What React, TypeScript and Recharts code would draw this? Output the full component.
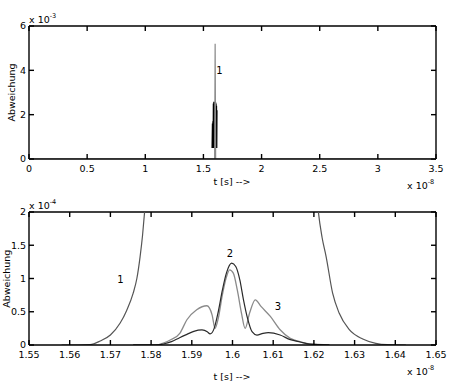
import React from 'react';
import { LineChart, Line, XAxis, YAxis, ReferenceLine } from 'recharts';

const FONT = '"DejaVu Sans", "Liberation Sans", Arial, sans-serif';

// ---------- top panel: t in 1e-8 s, deviation in 1e-3 ----------
const topXTicks = [0, 0.5, 1, 1.5, 2, 2.5, 3, 3.5];
const topYTicks = [0, 2, 4, 6];
const topSpikeT = [0, 1.57, 1.5965, 1.6007, 1.605, 1.63, 3.5];
const topSpikeV = [0, 0, 0, 5.2, 0, 0, 0];
const topBandT = [1.576, 1.579, 1.581, 1.583, 1.585, 1.587, 1.589, 1.591, 1.593, 1.595, 1.597, 1.599, 1.601, 1.603, 1.605, 1.607, 1.609, 1.611, 1.613, 1.615];
const topBandV = [0.5, 1.6, 0.5, 1.7, 0.5, 2.5, 0.5, 2.58, 0.5, 2.55, 0.5, 2.58, 0.5, 2.56, 0.5, 2.5, 0.5, 2.4, 0.5, 2.2];

// ---------- bottom panel: t in 1e-8 s, deviation in 1e-4 ----------
const botXTicks = [1.55, 1.56, 1.57, 1.58, 1.59, 1.6, 1.61, 1.62, 1.63, 1.64, 1.65];
const botYTicks = [0, 0.5, 1, 1.5, 2];

const curve1T = [1.558, 1.562, 1.565, 1.5675, 1.57, 1.5724, 1.574, 1.5756, 1.5765, 1.5773, 1.5779, 1.5784, 1.579, 1.58, 1.59, 1.6, 1.61, 1.62, 1.6205, 1.6211, 1.622, 1.623, 1.6246, 1.6262, 1.6287, 1.632, 1.6352, 1.638, 1.6426];
const curve1V = [0, 0, 0.005, 0.06, 0.15, 0.33, 0.52, 0.78, 1.0, 1.33, 1.65, 2.0, 2.5, 3.5, 15, 40, 15, 3.0, 2.4, 2.0, 1.62, 1.33, 0.78, 0.48, 0.23, 0.09, 0.025, 0.005, 0];

const curve2T = [1.5756, 1.581, 1.583, 1.585, 1.587, 1.5888, 1.5905, 1.5925, 1.5938, 1.5945, 1.5955, 1.5965, 1.5975, 1.5985, 1.5998, 1.6008, 1.6018, 1.6027, 1.6037, 1.6048, 1.606, 1.6075, 1.6088, 1.6117, 1.6142, 1.6166, 1.619, 1.6238];
const curve2V = [0, 0, 0.015, 0.05, 0.11, 0.16, 0.205, 0.226, 0.2, 0.166, 0.25, 0.5, 0.82, 1.08, 1.23, 1.18, 0.98, 0.68, 0.4, 0.2, 0.15, 0.175, 0.185, 0.15, 0.08, 0.045, 0.015, 0];

const curve3T = [1.5756, 1.5814, 1.583, 1.5847, 1.5871, 1.5888, 1.5912, 1.5937, 1.595, 1.5957, 1.5965, 1.5975, 1.5985, 1.5993, 1.6002, 1.6012, 1.6022, 1.6031, 1.6042, 1.6056, 1.607, 1.6093, 1.6117, 1.6142, 1.6166, 1.619, 1.6238];
const curve3V = [0, 0, 0.03, 0.075, 0.18, 0.38, 0.53, 0.59, 0.45, 0.25, 0.4, 0.75, 1.02, 1.13, 1.08, 0.82, 0.48, 0.25, 0.48, 0.68, 0.58, 0.43, 0.23, 0.1, 0.05, 0.015, 0];

const toRows = (ts: number[], vs: number[]) => ts.map((t, i) => ({ t, v: vs[i] }));

const FS = 9.5;
const PLOT_W = 407;
const PLOT_H = 133;
const TICK_PX = 5;
const LW = 1.4;
const tickText = { fill: '#000', fontSize: FS, fontFamily: FONT };
const tickLineStyle = { stroke: '#000', strokeWidth: LW };
const axisLineStyle = { stroke: '#000', strokeWidth: LW };

const TOP_X = [0, 3.5];
const TOP_Y = [0, 6];
const BOT_X = [1.55, 1.65];
const BOT_Y = [0, 2];

const TopChart = () => {
  const dx = ((TOP_X[1] - TOP_X[0]) / PLOT_W) * TICK_PX;
  const dy = ((TOP_Y[1] - TOP_Y[0]) / PLOT_H) * TICK_PX;
  return (
    <LineChart width={459} height={190} margin={{ top: 26, right: 23, left: 0, bottom: 0 }}>
      <XAxis type="number" dataKey="t" domain={TOP_X} ticks={topXTicks} allowDataOverflow interval={0}
        height={31} stroke="#000" axisLine={axisLineStyle} tickLine={tickLineStyle}
        tickSize={-TICK_PX} tickMargin={TICK_PX + 6} tick={tickText} />
      <YAxis type="number" domain={TOP_Y} ticks={topYTicks} allowDataOverflow interval={0} width={29}
        stroke="#000" axisLine={axisLineStyle} tickLine={tickLineStyle}
        tickSize={-TICK_PX} tickMargin={TICK_PX + 3} tick={tickText} />
      <ReferenceLine y={TOP_Y[1]} stroke="#000" strokeWidth={LW} ifOverflow="visible" />
      <ReferenceLine x={TOP_X[1]} stroke="#000" strokeWidth={LW} ifOverflow="visible" />
      {topXTicks.map((t) => (
        <ReferenceLine key={`xt${t}`} segment={[{ x: t, y: TOP_Y[1] - dy }, { x: t, y: TOP_Y[1] }]} stroke="#000" strokeWidth={LW} ifOverflow="visible" />
      ))}
      {topYTicks.map((v) => (
        <ReferenceLine key={`yr${v}`} segment={[{ x: TOP_X[1] - dx, y: v }, { x: TOP_X[1], y: v }]} stroke="#000" strokeWidth={LW} ifOverflow="visible" />
      ))}
      <Line data={toRows(topBandT, topBandV)} dataKey="v" type="linear" stroke="#000" strokeWidth={1.6} dot={false} isAnimationActive={false} />
      <Line data={toRows(topSpikeT, topSpikeV)} dataKey="v" type="linear" stroke="#8a8a8a" strokeWidth={1.2} dot={false} isAnimationActive={false} />
    </LineChart>
  );
};

const BottomChart = () => {
  const dx = ((BOT_X[1] - BOT_X[0]) / PLOT_W) * TICK_PX;
  const dy = ((BOT_Y[1] - BOT_Y[0]) / PLOT_H) * TICK_PX;
  return (
    <LineChart width={459} height={201} margin={{ top: 22, right: 23, left: 0, bottom: 0 }}>
      <XAxis type="number" dataKey="t" domain={BOT_X} ticks={botXTicks} allowDataOverflow interval={0}
        height={46} stroke="#000" axisLine={axisLineStyle} tickLine={tickLineStyle}
        tickSize={-TICK_PX} tickMargin={TICK_PX + 6} tick={tickText} />
      <YAxis type="number" domain={BOT_Y} ticks={botYTicks} allowDataOverflow interval={0} width={29}
        stroke="#000" axisLine={axisLineStyle} tickLine={tickLineStyle}
        tickSize={-TICK_PX} tickMargin={TICK_PX + 3} tick={tickText} />
      <ReferenceLine y={BOT_Y[1]} stroke="#000" strokeWidth={LW} ifOverflow="visible" />
      <ReferenceLine x={BOT_X[1]} stroke="#000" strokeWidth={LW} ifOverflow="visible" />
      {botXTicks.map((t) => (
        <ReferenceLine key={`xt${t}`} segment={[{ x: t, y: BOT_Y[1] - dy }, { x: t, y: BOT_Y[1] }]} stroke="#000" strokeWidth={LW} ifOverflow="visible" />
      ))}
      {botYTicks.map((v) => (
        <ReferenceLine key={`yr${v}`} segment={[{ x: BOT_X[1] - dx, y: v }, { x: BOT_X[1], y: v }]} stroke="#000" strokeWidth={LW} ifOverflow="visible" />
      ))}
      <Line data={toRows(curve1T, curve1V)} dataKey="v" type="monotone" stroke="#555" strokeWidth={1.2} dot={false} isAnimationActive={false} />
      <Line data={toRows(curve3T, curve3V)} dataKey="v" type="monotone" stroke="#8a8a8a" strokeWidth={1.3} dot={false} isAnimationActive={false} />
      <Line data={toRows(curve2T, curve2V)} dataKey="v" type="monotone" stroke="#2a2a2a" strokeWidth={1.2} dot={false} isAnimationActive={false} />
    </LineChart>
  );
};

const Exp = ({ x, y, exp }: { x: number; y: number; exp: string }) => (
  <text x={x} y={y} fontSize={9.5} fontFamily={FONT} fill="#000">
    x 10<tspan dy={-5} fontSize={6.5}>{exp}</tspan>
  </text>
);

const Txt = ({ x, y, children }: { x: number; y: number; children: React.ReactNode }) => (
  <text x={x} y={y} dy="0.36em" textAnchor="middle" fontSize={10} fontFamily={FONT} fill="#000">{children}</text>
);

const Overlay = () => (
  <svg width={459} height={391} style={{ position: 'absolute', left: 0, top: 0, zIndex: -1 }}>
    <Exp x={29} y={22.5} exp="-3" />
    <Exp x={407} y={188.5} exp="-8" />
    <Exp x={29} y={208.5} exp="-4" />
    <Exp x={407} y={375} exp="-8" />
    <text x={232} y={181.5} dy="0.36em" textAnchor="middle" fontSize={9.5} fontFamily={FONT} fill="#000">t [s] --&gt;</text>
    <text x={232} y={377} dy="0.36em" textAnchor="middle" fontSize={9.5} fontFamily={FONT} fill="#000">t [s] --&gt;</text>
    <text x={12} y={92.5} dy="0.36em" textAnchor="middle" fontSize={9.5} fontFamily={FONT} fill="#000"
      transform="rotate(-90 12 92.5)">Abweichung</text>
    <text x={6.5} y={278.7} dy="0.36em" textAnchor="middle" fontSize={9.5} fontFamily={FONT} fill="#000"
      transform="rotate(-90 6.5 278.7)">Abweichung</text>
    <Txt x={219.5} y={70}>1</Txt>
    <Txt x={120.5} y={279.5}>1</Txt>
    <Txt x={230} y={253.5}>2</Txt>
    <Txt x={278} y={306.5}>3</Txt>
  </svg>
);

export default function App() {
  return (
    <div style={{ position: 'absolute', left: 0, top: 0, width: 459, height: 391, background: '#fff', zIndex: 0 }}>
      <Overlay />
      <TopChart />
      <BottomChart />
    </div>
  );
}
